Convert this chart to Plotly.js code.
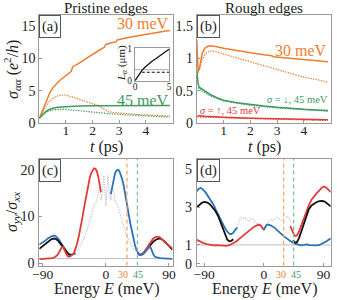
<!DOCTYPE html>
<html><head><meta charset="utf-8">
<script src="https://cdn.plot.ly/plotly-3.0.1.min.js"></script>
<style>html,body{margin:0;padding:0;background:#fff}#chart{width:337px;height:300px}</style>
</head><body><div id="chart"></div>
<script>
// ---------- Panel (a): pristine edges ----------
const tA30 = [0,0.05,0.1,0.2,0.3,0.4,0.5,0.6,0.7,0.8,0.9,1.0,1.1,1.2,1.25,1.3,1.5,1.75,2.0,2.25,2.45,2.5,2.75,2.88,2.92,3.0,3.25,3.5,3.75,4.0,4.25,4.5,4.75,4.9];
const sA30 = [0.7,1.2,1.8,2.9,3.9,4.7,5.4,5.9,6.3,6.7,7.0,7.3,7.7,8.0,8.7,8.8,9.3,10.0,10.7,11.3,11.8,12.2,12.5,12.6,12.9,13.0,13.2,13.4,13.6,13.8,14.0,14.15,14.3,14.4];
const tA30d = [0,0.1,0.2,0.3,0.4,0.5,0.6,0.7,0.8,0.9,1.0,1.2,1.4,1.6,1.8,2.0,2.2,2.4,2.5,2.6,2.8,3.0,3.5,4.0,4.5,4.9];
const sA30d = [0.7,1.5,2.3,2.9,3.4,3.8,4.05,4.2,4.3,4.35,4.3,4.1,3.8,3.5,3.25,3.0,2.7,2.2,1.9,1.7,1.6,1.5,1.35,1.2,1.1,1.05];
const tA45 = [0,0.1,0.2,0.3,0.4,0.5,0.7,1.0,1.5,2.0,3.0,4.0,4.9];
const sA45 = [0.7,1.2,1.6,1.9,2.1,2.25,2.4,2.5,2.6,2.65,2.7,2.7,2.7];
const tA45d = [0,0.1,0.2,0.3,0.5,0.7,0.9,1.2,1.5,2.0,2.5,3.0,3.5,4.0,4.5,4.9];
const sA45d = [0.7,1.1,1.5,1.75,2.0,2.1,2.1,2.0,1.85,1.65,1.45,1.3,1.15,1.05,0.95,0.9];
// inset: localisation length
const tInset = [0,0.5,1,1.5,2,2.5,3,3.5,4,4.5,5];
const lInset = [0,0.17,0.31,0.42,0.52,0.6,0.67,0.75,0.83,0.9,0.97];
const tInsetRef = [1,5];
const lInsetDashed = [0.26,0.26];
const tInsetGray = [0,5];
const lInsetGray = [0.34,0.34];

// ---------- Panel (b): rough edges ----------
const tB30 = [0,0.02,0.05,0.1,0.15,0.2,0.3,0.4,0.5,0.7,1.0,1.5,2.0,2.5,2.8,2.85,3.0,3.5,4.0,4.5,4.9];
const sB30 = [1.3,1.1,0.8,0.85,0.98,1.08,1.16,1.19,1.2,1.19,1.16,1.12,1.09,1.06,1.045,1.03,1.025,1.0,0.98,0.965,0.95];
const tB30d = [0.05,0.1,0.2,0.3,0.4,0.5,0.7,1.0,1.5,2.0,2.5,3.0,3.5,4.0,4.5,4.9];
const sB30d = [0.78,0.85,0.98,1.06,1.1,1.12,1.11,1.07,1.01,0.95,0.89,0.82,0.76,0.71,0.67,0.63];
const tBdn = [0,0.02,0.05,0.1,0.2,0.3,0.5,0.75,1.0,1.5,2.0,2.5,3.0,3.5,4.0,4.5,4.9];
const sBdn = [0.82,0.7,0.6,0.55,0.52,0.49,0.44,0.39,0.35,0.31,0.28,0.26,0.24,0.22,0.21,0.2,0.19];
const tBdnd = [0.05,0.1,0.2,0.5,1.0,2.0,3.0,4.0,4.9];
const sBdnd = [0.55,0.52,0.49,0.42,0.34,0.27,0.23,0.2,0.18];
const tBup = [0.02,0.1,0.3,0.5,1.0,2.0,3.0,4.0,4.9];
const sBup = [0.1,0.11,0.1,0.095,0.085,0.07,0.06,0.05,0.045];
const tBupd = [0.02,0.5,1.0,2.0,3.0,4.0,4.9];
const sBupd = [0.09,0.085,0.075,0.06,0.05,0.04,0.035];

// ---------- Panel (c): pristine, sigma_yy / sigma_xx ----------
const eCblueL = [-95,-90,-86,-82,-79,-76,-73,-70,-67,-64,-61,-58,-55,-52,-49,-46,-43];
const rCblueL = [4.0,4.4,4.9,5.4,5.7,5.85,5.9,5.6,5.1,4.4,3.6,2.8,2.2,1.9,1.85,1.95,2.1];
const eCblackL = [-95,-90,-86,-82,-78,-74,-71,-68,-64,-60,-56,-53,-50];
const rCblackL = [3.1,3.7,4.3,4.8,5.15,5.3,5.2,4.8,4.0,3.1,2.3,1.9,1.75];
const eCred = [-95,-88,-82,-76,-72,-69,-67,-65,-63,-61,-59,-57,-55,-53,-51,-49,-47,-45,-43,-41,-39,-37,-35,-33,-31,-29,-27,-25,-23,-21,-19,-17,-15,-13,-11,-9,-7];
const rCred = [0.9,0.95,1.0,1.1,1.4,1.8,2.3,2.9,3.4,3.5,3.0,2.2,1.6,1.4,1.45,1.6,1.9,2.4,3.2,4.3,5.5,6.9,8.5,10.2,12.0,13.8,15.5,17.0,18.3,19.3,20.0,20.3,20.2,19.7,18.6,17.0,15.2];
const eCblue = [7,9,11,13,15,17,19,21,23,25,27,29,31,33,35,37,39,41,43,45,47,49,51,54,57,60,62,64,66,68,70,73,77,82,88,95];
const rCblue = [14.8,16.5,18.0,19.2,19.8,20.0,19.8,19.1,18.1,16.9,15.4,13.7,11.9,10.1,8.4,6.8,5.4,4.2,3.1,2.3,1.9,1.75,1.8,2.1,2.6,3.3,3.5,3.3,2.5,1.8,1.4,1.2,1.1,1.05,1.0,0.95];
const eCredR = [45,47,49,52,55,58,61,64,67,70,73,76,79,82,86,90,95];
const rCredR = [2.3,1.9,1.8,2.0,2.5,3.2,4.0,4.7,5.2,5.55,5.7,5.6,5.3,4.8,4.2,3.7,3.2];
const eCblackR = [47,50,53,56,60,64,68,72,76,79,82,86,90,95];
const rCblackR = [1.9,1.85,2.1,2.6,3.3,4.1,4.7,5.1,5.3,5.2,4.9,4.3,3.6,2.9];
const eCgray = [-50,-45,-40,-35,-30,-26,-22,-19,-16,-13,-11,-9,-7,-5,-3,-1.5,0,1.5,3,5,7,9,11,13,16,19,22,26,30,35,40,45,50];
const rCgray = [1.6,2.2,3.0,4.2,5.8,7.5,9.5,11.3,12.8,13.2,15.5,16.2,13.5,15.0,18.8,16.0,12.2,16.0,18.8,15.0,13.5,16.2,15.5,13.2,12.8,11.3,9.5,7.5,5.8,4.2,3.0,2.2,1.6];

// ---------- Panel (d): rough, sigma_yy / sigma_xx ----------
const eDblueL = [-101,-98,-95,-92,-88,-84,-80,-76,-72,-68,-64,-60,-56,-52,-49,-46,-43,-40];
const rDblueL = [3.85,3.98,4.02,3.95,3.8,3.6,3.4,3.15,2.85,2.55,2.3,2.0,1.75,1.6,1.57,1.65,1.8,1.92];
const eDblackL = [-101,-97,-93,-89,-85,-81,-77,-73,-69,-65,-61,-58,-55,-52,-49,-46];
const rDblackL = [3.0,3.15,3.25,3.28,3.25,3.15,3.0,2.8,2.55,2.2,1.8,1.5,1.28,1.2,1.22,1.3];
const eDred = [-101,-96,-91,-86,-81,-76,-71,-66,-61,-56,-51,-46,-41,-36,-31,-26,-21,-16,-11,-7,-4,-2,0];
const rDred = [1.28,1.18,1.1,1.04,1.0,0.98,0.99,0.97,0.94,0.95,1.0,1.08,1.2,1.35,1.5,1.65,1.8,1.93,2.03,2.08,2.02,1.9,1.8];
const eDblue = [0,2,4,7,11,16,21,26,31,36,41,46,51,56,61,65,69,74,79,84,89,94,98,101];
const rDblue = [1.8,1.95,2.06,2.08,2.03,1.92,1.78,1.6,1.44,1.3,1.18,1.08,1.02,0.98,1.0,1.03,0.99,0.97,0.98,1.0,1.07,1.18,1.28,1.35];
const eDredR = [40,42,44,46,48,50,53,56,60,64,68,72,76,80,84,88,91,94,97,101];
const rDredR = [2.0,1.85,1.65,1.52,1.47,1.5,1.7,2.0,2.35,2.75,3.1,3.4,3.6,3.75,3.9,4.05,4.1,4.05,3.95,3.8];
const eDblackR = [44,47,50,53,56,60,64,68,72,76,80,84,88,92,96,101];
const rDblackR = [1.25,1.12,1.15,1.35,1.65,2.1,2.55,2.9,3.1,3.2,3.28,3.32,3.33,3.3,3.2,3.05];
const eDgray = [-40,-37,-34,-31,-28,-25,-22,-19,-16,-13,-10,-7,-4,-2,0,2,5,8,11,14,17,20,23,26,29,32,35,38,40,42];
const rDgray = [1.92,2.3,2.45,2.4,2.45,2.35,2.25,2.4,2.35,2.2,2.1,2.05,1.95,1.85,1.75,1.9,2.1,2.25,2.35,2.3,2.4,2.47,2.4,2.3,2.35,2.45,2.5,2.45,2.3,2.15];

const markedEnergies = [30, 45];
const markedLabels = ['30', '45'];
const unityLevel = 1;

// ---------- styling ----------
const FONT = "'Liberation Serif', 'DejaVu Serif', serif";
const ORANGE = '#f07d2d', GREEN = '#3f9b5f', BLUE = '#2c72b8', RED = '#e33b36', BLACK = '#111111', GRAY = '#c4c4c4';
const ORANGE_L = '#f6a86a', GREEN_L = '#7cc39a';
const W = 337, H = 300;
const fx = p => p / W, fy = p => 1 - p / H;
const DOT = '1.3px,1.3px';

function line(x, y, xa, ya, color, dash, width) {
  return {x: x, y: y, xaxis: xa, yaxis: ya, type: 'scatter', mode: 'lines', hoverinfo: 'skip',
          line: {color: color, dash: dash || 'solid', width: width || 1.5}, showlegend: false};
}

const traces = [
  line(tA30d, sA30d, 'x', 'y', ORANGE, DOT, 1.3),
  line(tA45d, sA45d, 'x', 'y', GREEN, DOT, 1.3),
  line(tA30, sA30, 'x', 'y', ORANGE, 'solid', 1.5),
  line(tA45, sA45, 'x', 'y', GREEN, 'solid', 1.5),
  line(tB30d, sB30d, 'x2', 'y2', ORANGE, DOT, 1.3),
  line(tBdnd, sBdnd, 'x2', 'y2', GREEN, DOT, 1.3),
  line(tBupd, sBupd, 'x2', 'y2', RED, DOT, 1.3),
  line(tB30, sB30, 'x2', 'y2', ORANGE, 'solid', 1.5),
  line(tBdn, sBdn, 'x2', 'y2', GREEN, 'solid', 1.5),
  line(tBup, sBup, 'x2', 'y2', RED, 'solid', 1.5),
  line(eCgray, rCgray, 'x3', 'y3', GRAY, DOT, 1.2),
  line(eCblueL, rCblueL, 'x3', 'y3', BLUE, 'solid', 1.8),
  line(eCblackL, rCblackL, 'x3', 'y3', BLACK, 'solid', 1.8),
  line(eCred, rCred, 'x3', 'y3', RED, 'solid', 1.8),
  line(eCblackR, rCblackR, 'x3', 'y3', BLACK, 'solid', 1.8),
  line(eCredR, rCredR, 'x3', 'y3', RED, 'solid', 1.8),
  line(eCblue, rCblue, 'x3', 'y3', BLUE, 'solid', 1.8),
  line(eDgray, rDgray, 'x4', 'y4', GRAY, DOT, 1.2),
  line(eDblueL, rDblueL, 'x4', 'y4', BLUE, 'solid', 1.8),
  line(eDred, rDred, 'x4', 'y4', RED, 'solid', 1.8),
  line(eDblackL, rDblackL, 'x4', 'y4', BLACK, 'solid', 1.8),
  line(eDblue, rDblue, 'x4', 'y4', BLUE, 'solid', 1.8),
  line(eDredR, rDredR, 'x4', 'y4', RED, 'solid', 1.8),
  line(eDblackR, rDblackR, 'x4', 'y4', BLACK, 'solid', 1.8),
  line(tInsetGray, lInsetGray, 'x5', 'y5', '#aaaaaa', 'solid', 1),
  line(tInsetRef, lInsetDashed, 'x5', 'y5', BLACK, '3px,2px', 1.1),
  line(tInset, lInset, 'x5', 'y5', BLACK, 'solid', 1.3)
];

function ax(extra) {
  return Object.assign({showline: true, mirror: true, linecolor: '#9a9a9a', linewidth: 1,
    ticks: 'inside', ticklen: 3, tickcolor: '#9a9a9a', showgrid: false, zeroline: false,
    tickfont: {family: FONT, size: 14, color: '#222'}, fixedrange: true}, extra);
}
const xTick = {family: FONT, size: 13.5, color: '#222'};
const smallTick = {family: FONT, size: 9.5, color: '#222'};
const titleFont = {family: FONT, size: 16, color: '#222'};

const layout = {
  width: W, height: H, margin: {l: 0, r: 0, t: 0, b: 0},
  paper_bgcolor: '#fff', plot_bgcolor: '#fff', showlegend: false,
  font: {family: FONT, color: '#222'},
  xaxis: ax({domain: [fx(39.3), fx(172.5)], range: [0, 5], tickvals: [1,2,3,4], anchor: 'y', ticklabelstandoff: -5, tickfont: xTick}),
  yaxis: ax({domain: [fy(122.7), fy(15)], range: [0, 16.8], tickvals: [0,5,10,15], anchor: 'x'}),
  xaxis2: ax({domain: [fx(196.8), fx(330.7)], range: [0, 5], tickvals: [1,2,3,4], anchor: 'y2', ticklabelstandoff: -5, tickfont: xTick}),
  yaxis2: ax({domain: [fy(122.7), fy(15)], range: [0, 1.68], tickvals: [0,0.5,1,1.5], ticktext: ['0','0.5','1','1.5'], anchor: 'x2'}),
  xaxis3: ax({domain: [fx(39.3), fx(172.5)], range: [-95, 95], tickvals: [-90,0,90], ticktext: ['−90','0','90'], anchor: 'y3', ticklabelstandoff: -4, tickfont: xTick}),
  yaxis3: ax({domain: [fy(265.5), fy(159)], range: [-0.47, 22.3], tickvals: [0,10,20], anchor: 'x3', ticklabelstandoff: 1}),
  xaxis4: ax({domain: [fx(196.8), fx(330.7)], range: [-101, 101], tickvals: [-90,0,90], ticktext: ['−90','0','90'], anchor: 'y4', ticklabelstandoff: -4, tickfont: xTick}),
  yaxis4: ax({domain: [fy(265.5), fy(159)], range: [-0.09, 5.56], tickvals: [0,1,3,5], anchor: 'x4', ticklabelstandoff: 1}),
  xaxis5: ax({domain: [fx(135), fx(169)], range: [0, 5], tickvals: [0,5], ticklen: 2, anchor: 'y5', tickfont: smallTick, ticklabelstandoff: -3}),
  yaxis5: ax({domain: [fy(80.7), fy(48.3)], range: [0, 1], tickvals: [0,1], ticklen: 2, anchor: 'x5', tickfont: smallTick}),
  shapes: [],
  annotations: []
};

function note(text, px, py, font, extra) {
  layout.annotations.push(Object.assign({xref: 'paper', yref: 'paper', x: fx(px), y: fy(py), text: text,
    showarrow: false, xanchor: 'center', yanchor: 'middle', font: font}, extra || {}));
}

// axis titles
note('<i>t</i> (ps)', 106, 147, titleFont);
note('<i>t</i> (ps)', 264, 147, titleFont);
note('Energy <i>E</i> (meV)', 106, 289, titleFont);
note('Energy <i>E</i> (meV)', 264, 289, titleFont);
note('<i>σ</i><sub><i>αα</i></sub> (<i>e</i><sup>2</sup>/<i>h</i>)', 12, 70, titleFont, {textangle: -90});
note('<i>σ</i><sub><i>yy</i></sub>/<i>σ</i><sub><i>xx</i></sub>', 12, 212, titleFont, {textangle: -90});
note('<i>L</i><sub><i>α</i></sub> (μm)', 122, 63, {family: FONT, size: 11, color: '#222'}, {textangle: -90});

// unity reference line and marked energies in (c) and (d)
[['x3','y3',[-4,1]],['x4','y4',[-3,2]]].forEach(([xa, ya, shifts]) => {
  layout.shapes.push({type: 'line', xref: xa + ' domain', yref: ya, x0: 0, x1: 1, y0: unityLevel, y1: unityLevel,
    line: {color: '#bdbdbd', width: 1}, layer: 'below'});
  markedEnergies.forEach((e, i) => {
    layout.shapes.push({type: 'line', xref: xa, yref: ya + ' domain', x0: e, x1: e, y0: 0, y1: 1,
      line: {color: i === 0 ? ORANGE_L : GREEN_L, width: 1.3, dash: '4px,3px'}});
    layout.annotations.push({xref: xa, yref: 'paper', x: e, y: fy(274), text: markedLabels[i], showarrow: false,
      xanchor: 'center', xshift: shifts[i],
      font: {family: FONT, size: 10, color: i === 0 ? ORANGE : GREEN}, yanchor: 'middle'});
  });
});

// panel letters
[['(a)','x','y'],['(b)','x2','y2'],['(c)','x3','y3'],['(d)','x4','y4']].forEach(([t, xa, ya]) => {
  layout.annotations.push({xref: xa + ' domain', yref: ya + ' domain', x: 0, y: 1, xanchor: 'left', yanchor: 'top',
    text: t, showarrow: false, font: {family: FONT, size: 14.5, color: '#222'},
    bordercolor: '#555', borderwidth: 1, borderpad: 2, bgcolor: '#fff'});
});

// column titles
note('Pristine edges', 106, 8, {family: FONT, size: 15, color: '#222'});
note('Rough edges', 264, 8, {family: FONT, size: 15, color: '#222'});

// curve labels
layout.annotations.push({xref: 'x', yref: 'y', x: 4.95, y: 15.4, text: '30 meV', showarrow: false, xanchor: 'right',
  font: {family: FONT, size: 16, color: ORANGE}});
layout.annotations.push({xref: 'x', yref: 'y', x: 4.95, y: 3.5, text: '45 meV', showarrow: false, xanchor: 'right',
  font: {family: FONT, size: 16, color: GREEN}});
layout.annotations.push({xref: 'x2', yref: 'y2', x: 4.92, y: 1.12, text: '30 meV', showarrow: false, xanchor: 'right',
  font: {family: FONT, size: 16, color: ORANGE}});
layout.annotations.push({xref: 'x2', yref: 'y2', x: 4.97, y: 0.355, text: '<i>σ</i> = ↓, 45 meV', showarrow: false, xanchor: 'right',
  font: {family: FONT, size: 10.5, color: GREEN}});
layout.annotations.push({xref: 'x2', yref: 'y2', x: 0.05, y: 0.19, text: '<i>σ</i> = ↑, 45 meV', showarrow: false, xanchor: 'left',
  font: {family: FONT, size: 10.5, color: RED}});

Plotly.newPlot('chart', traces, layout, {staticPlot: true, displayModeBar: false});
</script></body></html>
